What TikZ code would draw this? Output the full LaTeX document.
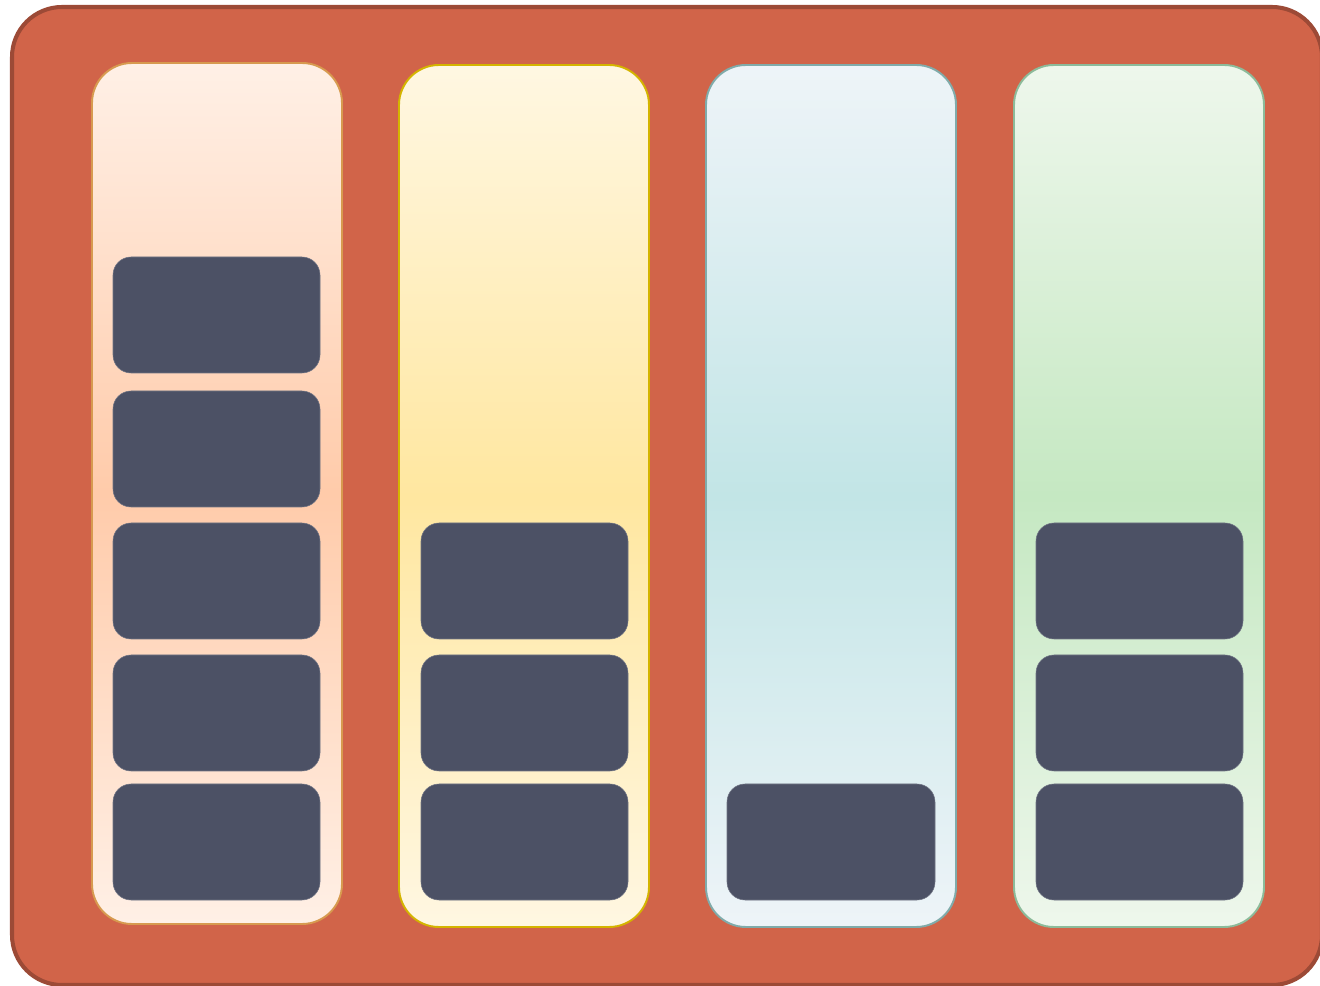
\documentclass[tikz,border=0pt]{standalone}
\usetikzlibrary{positioning}

\definecolor{framered}{HTML}{D16449}
\definecolor{framedark}{HTML}{9C4A36}
\definecolor{slotgrey}{HTML}{4C5165}
\definecolor{peachtop}{HTML}{FFF0E6}
\definecolor{peachmid}{HTML}{FFCBAA}
\definecolor{peachline}{HTML}{D79A4F}
\definecolor{sandtop}{HTML}{FFF7E2}
\definecolor{sandmid}{HTML}{FFE7A0}
\definecolor{sandline}{HTML}{D4B400}
\definecolor{skytop}{HTML}{EEF4F8}
\definecolor{skymid}{HTML}{C2E5E6}
\definecolor{skyline}{HTML}{80ABAA}
\definecolor{minttop}{HTML}{EEF7EC}
\definecolor{mintmid}{HTML}{C5E8C2}
\definecolor{mintline}{HTML}{8CBB9A}

\tikzset{
  lane/.style={line width=1.1pt, rounded corners=0.8cm},
  slot/.style={fill=slotgrey, draw=slotgrey!80!white, line width=0.3pt, rounded corners=0.36cm}
}

\begin{document}
\begin{tikzpicture}[x=0.02cm, y=-0.02cm, line join=round]
	\useasboundingbox (0,0) rectangle (1320,986);
	
	% 1. outer frame
	\draw[line width=2.3pt, draw=framedark, fill=framered, rounded corners=1cm] (12,7) rectangle (1322,985);
	
	% 2. the four lanes
	\foreach \lx/\ty/\by/\c in {92/63/924/peach, 399/65/927/sand, 706/65/927/sky, 1014/65/927/mint}{
		\draw[lane, draw=\c line, top color=\c top, bottom color=\c top, middle color=\c mid]
			(\lx,\ty) rectangle (\lx+250,\by);
	}
	
	% 3. dark slots in each lane
	\foreach \sy in {257,391,523,655,784}
		\draw[slot] (113,\sy) rectangle (320,\sy+116);
	\foreach \sy in {523,655,784}
		\draw[slot] (421,\sy) rectangle (628,\sy+116);
	\draw[slot] (727,784) rectangle (935,900);
	\foreach \sy in {523,655,784}
		\draw[slot] (1036,\sy) rectangle (1243,\sy+116);
\end{tikzpicture}
\end{document}
